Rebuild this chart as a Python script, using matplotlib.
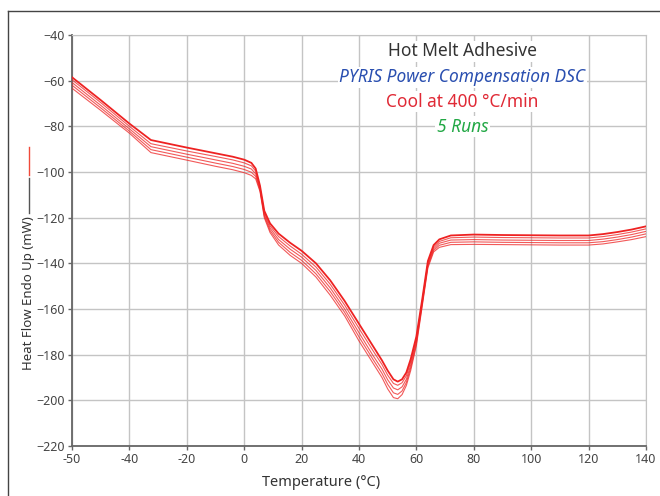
import matplotlib
matplotlib.use('Agg')
import matplotlib.pyplot as plt
from matplotlib.lines import Line2D

plt.rcParams['font.family'] = ['Noto Sans', 'DejaVu Sans']

# Data (temperature in plotted axis units)
temp = [-60, -50, -40, -32.5, -20, -10, -4, 0, 2.5, 4, 5.5, 7, 9, 12, 16, 20, 25, 30,
        35, 40, 45, 48, 50, 52, 53.5, 55, 56.5, 58, 60, 62, 64, 66, 68, 72, 80, 90,
        100, 110, 120, 125, 130, 135, 140]

run1 = [-58.5, -68.5, -78.8, -86.0, -89.3, -91.8, -93.3, -94.6, -96.0, -98.5, -106.0,
        -117.0, -122.5, -127.0, -131.0, -134.5, -140.0, -147.5, -156.5, -166.5, -176.5,
        -182.5, -187.0, -190.8, -191.8, -190.8, -187.8, -182.0, -172.0, -156.0, -139.0,
        -132.0, -129.5, -127.8, -127.4, -127.6, -127.7, -127.8, -127.8, -127.2, -126.3,
        -125.2, -123.8]
run2 = [-59.6, -69.6, -80.0, -87.6, -90.8, -93.2, -94.7, -96.0, -97.3, -99.6, -106.8,
        -117.8, -123.6, -128.3, -132.4, -136.0, -141.6, -149.2, -158.3, -168.5, -178.5,
        -184.3, -189.0, -192.6, -193.4, -192.3, -189.2, -183.3, -173.0, -156.8, -139.8,
        -132.8, -130.4, -128.8, -128.5, -128.7, -128.8, -128.9, -128.9, -128.3, -127.4,
        -126.3, -124.9]
run3 = [-60.8, -70.8, -81.1, -88.9, -92.2, -94.7, -96.2, -97.5, -98.7, -100.8, -107.4,
        -118.6, -124.6, -129.6, -133.8, -137.3, -143.1, -150.8, -160.0, -170.4, -180.6,
        -186.3, -191.0, -194.6, -195.4, -194.1, -190.8, -184.6, -174.2, -157.6, -140.6,
        -133.6, -131.2, -129.8, -129.6, -129.8, -129.9, -130.0, -130.0, -129.4, -128.5,
        -127.4, -126.0]
run4 = [-62.0, -71.9, -82.1, -90.2, -93.5, -96.1, -97.6, -98.9, -100.1, -101.9, -108.0,
        -119.3, -125.6, -130.8, -135.2, -138.7, -144.6, -152.4, -161.5, -172.2, -182.3,
        -188.2, -193.0, -196.7, -197.4, -195.9, -192.2, -185.8, -175.1, -158.3, -141.3,
        -134.3, -132.1, -130.8, -130.6, -130.8, -130.9, -131.0, -131.0, -130.5, -129.6,
        -128.5, -127.1]
run5 = [-63.3, -73.0, -83.0, -91.5, -94.8, -97.5, -99.0, -100.3, -101.5, -103.0, -108.5,
        -120.0, -126.5, -132.0, -136.5, -140.0, -146.0, -154.0, -163.0, -174.0, -184.0,
        -190.0, -195.0, -198.8, -199.3, -197.5, -193.5, -187.0, -176.0, -159.0, -142.0,
        -135.0, -133.0, -131.8, -131.7, -131.8, -131.9, -132.0, -132.0, -131.5, -130.6,
        -129.6, -128.3]
runs = [run1, run2, run3, run4, run5]

xticks = [-60, -40, -20, 0, 20, 40, 60, 80, 100, 120, 140]
xticklabels = ['-50', '-40', '-20', '0', '20', '40', '60', '80', '100', '120', '140']
yticks = [-40, -60, -80, -100, -120, -140, -160, -180, -200, -220]

fig = plt.figure(figsize=(6.6, 4.96), dpi=100)
ax = fig.add_axes([72/660, 1-446/496, 574/660, 411/496])

for i, r in enumerate(runs):
    ax.plot(temp, r, color='#ee2222', lw=1.3 if i == 0 else 0.8,
            alpha=1.0 if i == 0 else 0.75, zorder=3)

ax.set_xlim(-60, 140)
ax.set_ylim(-220, -40)
ax.set_xticks(xticks)
ax.set_xticklabels(xticklabels)
ax.set_yticks(yticks)
ax.grid(True, color='#c4c4c4', lw=1.0)
ax.set_axisbelow(True)

for s in ['top', 'right']:
    ax.spines[s].set_color('#c4c4c4')
for s in ['left', 'bottom']:
    ax.spines[s].set_color('#666666')
    ax.spines[s].set_linewidth(1.3)
ax.tick_params(length=3, width=1, color='#666666', labelcolor='#444444',
               labelsize=9, pad=2)

ax.set_xlabel('Temperature (°C)', fontsize=10.5, color='#333333')
ax.xaxis.set_label_coords(0.434, -0.07)

# title block with white boxes over the grid
box = dict(facecolor='white', edgecolor='none', pad=1.0)
tx = 0.68
ax.text(tx, 0.96, 'Hot Melt Adhesive', transform=ax.transAxes, ha='center', va='center',
        fontsize=12.5, color='#333333', bbox=box)
ax.text(tx, 0.897, 'PYRIS Power Compensation DSC', transform=ax.transAxes, ha='center',
        va='center', fontsize=12.5, color='#2a4fb0', style='italic', bbox=box)
ax.text(tx, 0.838, 'Cool at 400 °C/min', transform=ax.transAxes, ha='center', va='center',
        fontsize=12.5, color='#e02a36', bbox=box)
ax.text(tx, 0.777, '5 Runs', transform=ax.transAxes, ha='center', va='center',
        fontsize=12.5, color='#22a845', style='italic', bbox=box)

# y label with its little line legend
fig.text(29/660, 1-293/496, 'Heat Flow Endo Up (mW)', rotation=90, ha='center',
         va='center', fontsize=9.5, color='#333333')
fig.add_artist(Line2D([29/660, 29/660], [1-213/496, 1-178/496], color='#555555', lw=1))
fig.add_artist(Line2D([29/660, 29/660], [1-175/496, 1-147/496], color='#f04a3a', lw=1))

# picture frame
fig.add_artist(Line2D([8/660, 8/660], [0, 1-11/496], color='#444444', lw=1))
fig.add_artist(Line2D([8/660, 1], [1-11/496, 1-11/496], color='#444444', lw=1))

fig.savefig('out.png', dpi=100)
